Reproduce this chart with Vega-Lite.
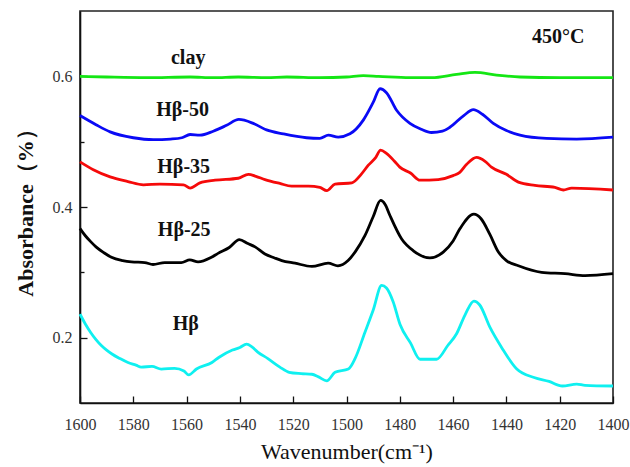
{
  "$schema": "https://vega.github.io/schema/vega-lite/v6.json",
  "width": 533,
  "height": 392,
  "autosize": "none",
  "padding": {"left": 80, "top": 11, "right": 17, "bottom": 64},
  "background": "white",
  "config": {
    "view": {"stroke": "#222", "strokeWidth": 1.6},
    "axis": {"grid": false, "domainColor": "#111", "domainWidth": 1.6, "tickColor": "#111", "tickWidth": 1.3, "labelFont": "Liberation Serif", "labelFontSize": 16, "labelColor": "#333", "titleFont": "Liberation Serif", "titleColor": "#111"}
  },
  "datasets": {
    "spectra": [
      {"s": "Hβ", "wn": 1600, "a": 0.236}, {"s": "Hβ", "wn": 1598, "a": 0.221}, {"s": "Hβ", "wn": 1596, "a": 0.208}, {"s": "Hβ", "wn": 1594, "a": 0.197}, {"s": "Hβ", "wn": 1592, "a": 0.188}, {"s": "Hβ", "wn": 1590, "a": 0.181}, {"s": "Hβ", "wn": 1588, "a": 0.175}, {"s": "Hβ", "wn": 1585, "a": 0.168}, {"s": "Hβ", "wn": 1582, "a": 0.162}, {"s": "Hβ", "wn": 1579, "a": 0.158}, {"s": "Hβ", "wn": 1577, "a": 0.155}, {"s": "Hβ", "wn": 1573, "a": 0.156}, {"s": "Hβ", "wn": 1569.5, "a": 0.152}, {"s": "Hβ", "wn": 1564.5, "a": 0.153}, {"s": "Hβ", "wn": 1561, "a": 0.149}, {"s": "Hβ", "wn": 1559.2, "a": 0.143}, {"s": "Hβ", "wn": 1556.3, "a": 0.152}, {"s": "Hβ", "wn": 1550.5, "a": 0.162}, {"s": "Hβ", "wn": 1547.8, "a": 0.170}, {"s": "Hβ", "wn": 1542.8, "a": 0.181}, {"s": "Hβ", "wn": 1540, "a": 0.185}, {"s": "Hβ", "wn": 1537.5, "a": 0.190}, {"s": "Hβ", "wn": 1535.5, "a": 0.186}, {"s": "Hβ", "wn": 1533.3, "a": 0.178}, {"s": "Hβ", "wn": 1529.5, "a": 0.168}, {"s": "Hβ", "wn": 1525, "a": 0.155}, {"s": "Hβ", "wn": 1521.5, "a": 0.147}, {"s": "Hβ", "wn": 1517, "a": 0.145}, {"s": "Hβ", "wn": 1513, "a": 0.144}, {"s": "Hβ", "wn": 1510.5, "a": 0.140}, {"s": "Hβ", "wn": 1507.4, "a": 0.134}, {"s": "Hβ", "wn": 1504.3, "a": 0.147}, {"s": "Hβ", "wn": 1499.3, "a": 0.152}, {"s": "Hβ", "wn": 1496.8, "a": 0.168}, {"s": "Hβ", "wn": 1493.1, "a": 0.208}, {"s": "Hβ", "wn": 1490, "a": 0.242}, {"s": "Hβ", "wn": 1486.8, "a": 0.280}, {"s": "Hβ", "wn": 1485, "a": 0.276}, {"s": "Hβ", "wn": 1482.5, "a": 0.255}, {"s": "Hβ", "wn": 1479.9, "a": 0.220}, {"s": "Hβ", "wn": 1476, "a": 0.192}, {"s": "Hβ", "wn": 1472.4, "a": 0.167}, {"s": "Hβ", "wn": 1466.2, "a": 0.167}, {"s": "Hβ", "wn": 1462, "a": 0.188}, {"s": "Hβ", "wn": 1458.7, "a": 0.206}, {"s": "Hβ", "wn": 1455.5, "a": 0.235}, {"s": "Hβ", "wn": 1452.2, "a": 0.256}, {"s": "Hβ", "wn": 1450, "a": 0.250}, {"s": "Hβ", "wn": 1446.2, "a": 0.216}, {"s": "Hβ", "wn": 1441.8, "a": 0.185}, {"s": "Hβ", "wn": 1436.1, "a": 0.152}, {"s": "Hβ", "wn": 1429.6, "a": 0.139}, {"s": "Hβ", "wn": 1424, "a": 0.133}, {"s": "Hβ", "wn": 1419, "a": 0.126}, {"s": "Hβ", "wn": 1413.6, "a": 0.129}, {"s": "Hβ", "wn": 1410.5, "a": 0.127}, {"s": "Hβ", "wn": 1400, "a": 0.126},
      {"s": "Hβ-25", "wn": 1600, "a": 0.367}, {"s": "Hβ-25", "wn": 1598, "a": 0.356}, {"s": "Hβ-25", "wn": 1596, "a": 0.347}, {"s": "Hβ-25", "wn": 1594, "a": 0.339}, {"s": "Hβ-25", "wn": 1591, "a": 0.330}, {"s": "Hβ-25", "wn": 1588.2, "a": 0.323}, {"s": "Hβ-25", "wn": 1584, "a": 0.318}, {"s": "Hβ-25", "wn": 1580.7, "a": 0.316}, {"s": "Hβ-25", "wn": 1575.7, "a": 0.315}, {"s": "Hβ-25", "wn": 1572.6, "a": 0.312}, {"s": "Hβ-25", "wn": 1568.2, "a": 0.315}, {"s": "Hβ-25", "wn": 1562, "a": 0.315}, {"s": "Hβ-25", "wn": 1558.8, "a": 0.319}, {"s": "Hβ-25", "wn": 1555.7, "a": 0.316}, {"s": "Hβ-25", "wn": 1550.7, "a": 0.323}, {"s": "Hβ-25", "wn": 1548.2, "a": 0.329}, {"s": "Hβ-25", "wn": 1544, "a": 0.338}, {"s": "Hβ-25", "wn": 1540.2, "a": 0.350}, {"s": "Hβ-25", "wn": 1537, "a": 0.344}, {"s": "Hβ-25", "wn": 1534.3, "a": 0.339}, {"s": "Hβ-25", "wn": 1530.6, "a": 0.328}, {"s": "Hβ-25", "wn": 1527, "a": 0.322}, {"s": "Hβ-25", "wn": 1524.3, "a": 0.318}, {"s": "Hβ-25", "wn": 1519.3, "a": 0.314}, {"s": "Hβ-25", "wn": 1513, "a": 0.309}, {"s": "Hβ-25", "wn": 1506.9, "a": 0.314}, {"s": "Hβ-25", "wn": 1503.2, "a": 0.310}, {"s": "Hβ-25", "wn": 1499.4, "a": 0.318}, {"s": "Hβ-25", "wn": 1496.8, "a": 0.331}, {"s": "Hβ-25", "wn": 1493.1, "a": 0.356}, {"s": "Hβ-25", "wn": 1490, "a": 0.385}, {"s": "Hβ-25", "wn": 1487.2, "a": 0.410}, {"s": "Hβ-25", "wn": 1485.5, "a": 0.404}, {"s": "Hβ-25", "wn": 1483.7, "a": 0.387}, {"s": "Hβ-25", "wn": 1479.3, "a": 0.351}, {"s": "Hβ-25", "wn": 1474.9, "a": 0.333}, {"s": "Hβ-25", "wn": 1468.7, "a": 0.322}, {"s": "Hβ-25", "wn": 1463.7, "a": 0.331}, {"s": "Hβ-25", "wn": 1460, "a": 0.348}, {"s": "Hβ-25", "wn": 1457.4, "a": 0.367}, {"s": "Hβ-25", "wn": 1452.2, "a": 0.389}, {"s": "Hβ-25", "wn": 1449.5, "a": 0.382}, {"s": "Hβ-25", "wn": 1446.2, "a": 0.358}, {"s": "Hβ-25", "wn": 1443, "a": 0.331}, {"s": "Hβ-25", "wn": 1440, "a": 0.318}, {"s": "Hβ-25", "wn": 1435.5, "a": 0.310}, {"s": "Hβ-25", "wn": 1426.8, "a": 0.300}, {"s": "Hβ-25", "wn": 1418, "a": 0.298}, {"s": "Hβ-25", "wn": 1410.5, "a": 0.295}, {"s": "Hβ-25", "wn": 1400, "a": 0.298},
      {"s": "Hβ-35", "wn": 1600, "a": 0.469}, {"s": "Hβ-35", "wn": 1595, "a": 0.457}, {"s": "Hβ-35", "wn": 1588.7, "a": 0.446}, {"s": "Hβ-35", "wn": 1582, "a": 0.439}, {"s": "Hβ-35", "wn": 1576.2, "a": 0.434}, {"s": "Hβ-35", "wn": 1570, "a": 0.435}, {"s": "Hβ-35", "wn": 1561.2, "a": 0.434}, {"s": "Hβ-35", "wn": 1558.7, "a": 0.429}, {"s": "Hβ-35", "wn": 1555, "a": 0.437}, {"s": "Hβ-35", "wn": 1549.3, "a": 0.441}, {"s": "Hβ-35", "wn": 1540.6, "a": 0.444}, {"s": "Hβ-35", "wn": 1536.8, "a": 0.450}, {"s": "Hβ-35", "wn": 1534, "a": 0.447}, {"s": "Hβ-35", "wn": 1530.6, "a": 0.442}, {"s": "Hβ-35", "wn": 1525, "a": 0.436}, {"s": "Hβ-35", "wn": 1520.6, "a": 0.432}, {"s": "Hβ-35", "wn": 1514.3, "a": 0.432}, {"s": "Hβ-35", "wn": 1510, "a": 0.430}, {"s": "Hβ-35", "wn": 1507.4, "a": 0.425}, {"s": "Hβ-35", "wn": 1504.3, "a": 0.435}, {"s": "Hβ-35", "wn": 1498, "a": 0.437}, {"s": "Hβ-35", "wn": 1494.5, "a": 0.450}, {"s": "Hβ-35", "wn": 1491.8, "a": 0.464}, {"s": "Hβ-35", "wn": 1489, "a": 0.476}, {"s": "Hβ-35", "wn": 1487.2, "a": 0.487}, {"s": "Hβ-35", "wn": 1485, "a": 0.482}, {"s": "Hβ-35", "wn": 1482, "a": 0.470}, {"s": "Hβ-35", "wn": 1480, "a": 0.461}, {"s": "Hβ-35", "wn": 1476, "a": 0.452}, {"s": "Hβ-35", "wn": 1472.4, "a": 0.441}, {"s": "Hβ-35", "wn": 1465.6, "a": 0.442}, {"s": "Hβ-35", "wn": 1460, "a": 0.448}, {"s": "Hβ-35", "wn": 1457.5, "a": 0.453}, {"s": "Hβ-35", "wn": 1455, "a": 0.465}, {"s": "Hβ-35", "wn": 1451.2, "a": 0.476}, {"s": "Hβ-35", "wn": 1448, "a": 0.470}, {"s": "Hβ-35", "wn": 1445.6, "a": 0.461}, {"s": "Hβ-35", "wn": 1440, "a": 0.450}, {"s": "Hβ-35", "wn": 1435.5, "a": 0.438}, {"s": "Hβ-35", "wn": 1429.3, "a": 0.433}, {"s": "Hβ-35", "wn": 1421.8, "a": 0.430}, {"s": "Hβ-35", "wn": 1418.6, "a": 0.426}, {"s": "Hβ-35", "wn": 1415.5, "a": 0.429}, {"s": "Hβ-35", "wn": 1400, "a": 0.426},
      {"s": "Hβ-50", "wn": 1600, "a": 0.540}, {"s": "Hβ-50", "wn": 1594, "a": 0.526}, {"s": "Hβ-50", "wn": 1588.7, "a": 0.515}, {"s": "Hβ-50", "wn": 1580, "a": 0.506}, {"s": "Hβ-50", "wn": 1572.5, "a": 0.503}, {"s": "Hβ-50", "wn": 1566, "a": 0.504}, {"s": "Hβ-50", "wn": 1561.8, "a": 0.506}, {"s": "Hβ-50", "wn": 1558.7, "a": 0.511}, {"s": "Hβ-50", "wn": 1555, "a": 0.510}, {"s": "Hβ-50", "wn": 1550, "a": 0.516}, {"s": "Hβ-50", "wn": 1545, "a": 0.525}, {"s": "Hβ-50", "wn": 1540.4, "a": 0.534}, {"s": "Hβ-50", "wn": 1535, "a": 0.528}, {"s": "Hβ-50", "wn": 1530, "a": 0.518}, {"s": "Hβ-50", "wn": 1523.7, "a": 0.512}, {"s": "Hβ-50", "wn": 1515, "a": 0.506}, {"s": "Hβ-50", "wn": 1510, "a": 0.505}, {"s": "Hβ-50", "wn": 1506.8, "a": 0.510}, {"s": "Hβ-50", "wn": 1503.1, "a": 0.507}, {"s": "Hβ-50", "wn": 1498.7, "a": 0.512}, {"s": "Hβ-50", "wn": 1493.7, "a": 0.533}, {"s": "Hβ-50", "wn": 1490, "a": 0.560}, {"s": "Hβ-50", "wn": 1487.4, "a": 0.581}, {"s": "Hβ-50", "wn": 1485, "a": 0.575}, {"s": "Hβ-50", "wn": 1481.2, "a": 0.548}, {"s": "Hβ-50", "wn": 1476.2, "a": 0.528}, {"s": "Hβ-50", "wn": 1472, "a": 0.519}, {"s": "Hβ-50", "wn": 1468.1, "a": 0.514}, {"s": "Hβ-50", "wn": 1464, "a": 0.516}, {"s": "Hβ-50", "wn": 1461.2, "a": 0.522}, {"s": "Hβ-50", "wn": 1456, "a": 0.540}, {"s": "Hβ-50", "wn": 1452.4, "a": 0.549}, {"s": "Hβ-50", "wn": 1449, "a": 0.542}, {"s": "Hβ-50", "wn": 1444.9, "a": 0.528}, {"s": "Hβ-50", "wn": 1440, "a": 0.517}, {"s": "Hβ-50", "wn": 1434.9, "a": 0.510}, {"s": "Hβ-50", "wn": 1425, "a": 0.505}, {"s": "Hβ-50", "wn": 1413.6, "a": 0.504}, {"s": "Hβ-50", "wn": 1400, "a": 0.507},
      {"s": "clay", "wn": 1600, "a": 0.600}, {"s": "clay", "wn": 1590, "a": 0.599}, {"s": "clay", "wn": 1575, "a": 0.598}, {"s": "clay", "wn": 1558.7, "a": 0.599}, {"s": "clay", "wn": 1550, "a": 0.598}, {"s": "clay", "wn": 1540.6, "a": 0.599}, {"s": "clay", "wn": 1530, "a": 0.598}, {"s": "clay", "wn": 1522.4, "a": 0.599}, {"s": "clay", "wn": 1510, "a": 0.598}, {"s": "clay", "wn": 1500, "a": 0.599}, {"s": "clay", "wn": 1493.7, "a": 0.601}, {"s": "clay", "wn": 1488, "a": 0.600}, {"s": "clay", "wn": 1476.2, "a": 0.598}, {"s": "clay", "wn": 1468, "a": 0.598}, {"s": "clay", "wn": 1458.7, "a": 0.603}, {"s": "clay", "wn": 1451.8, "a": 0.606}, {"s": "clay", "wn": 1443.7, "a": 0.602}, {"s": "clay", "wn": 1434.9, "a": 0.599}, {"s": "clay", "wn": 1420, "a": 0.598}, {"s": "clay", "wn": 1413.6, "a": 0.598}, {"s": "clay", "wn": 1400, "a": 0.598}
    ],
    "labels": [
      {"t": "clay", "wn": 1559.4, "a": 0.6195},
      {"t": "Hβ-50", "wn": 1561.5, "a": 0.539},
      {"t": "Hβ-35", "wn": 1561.1, "a": 0.452},
      {"t": "Hβ-25", "wn": 1560.9, "a": 0.356},
      {"t": "Hβ", "wn": 1560.3, "a": 0.211},
      {"t": "450°C", "wn": 1420.6, "a": 0.6516}
    ]
  },
  "layer": [
    {
      "data": {"name": "spectra"},
      "mark": {"type": "line", "strokeWidth": 2.8, "interpolate": "monotone"},
      "encoding": {
        "x": {
          "field": "wn", "type": "quantitative",
          "scale": {"domain": [1400, 1600], "reverse": true, "nice": false, "zero": false},
          "axis": {
            "title": "Wavenumber(cm⁻¹)",
            "titleFontSize": 22, "titleFontWeight": "normal", "titlePadding": 9,
            "values": [1400, 1410, 1420, 1430, 1440, 1450, 1460, 1470, 1480, 1490, 1500, 1510, 1520, 1530, 1540, 1550, 1560, 1570, 1580, 1590, 1600],
            "format": "d",
            "labelExpr": "datum.value % 20 === 0 ? datum.label : ''",
            "tickSize": {"condition": {"test": "datum.value % 20 === 0", "value": -7}, "value": -4},
            "labelPadding": 20, "labelFlush": false, "labelOverlap": false
          }
        },
        "y": {
          "field": "a", "type": "quantitative",
          "scale": {"domain": [0.1, 0.7], "nice": false, "zero": false},
          "axis": {
            "title": "Absorbance（%）",
            "titleFontSize": 22, "titleFontWeight": "bold", "titlePadding": 15,
            "values": [0.2, 0.3, 0.4, 0.5, 0.6],
            "format": ".1f",
            "labelExpr": "(round(datum.value * 10) % 2 === 0) ? datum.label : ''",
            "tickSize": {"condition": {"test": "round(datum.value * 10) % 2 === 0", "value": -7}, "value": -4},
            "labelPadding": 15, "labelOverlap": false
          }
        },
        "color": {
          "field": "s", "type": "nominal",
          "scale": {"domain": ["clay", "Hβ-50", "Hβ-35", "Hβ-25", "Hβ"], "range": ["#14e614", "#0a0af5", "#f50a0a", "#000000", "#0ff0f0"]},
          "legend": null
        }
      }
    },
    {
      "data": {"name": "labels"},
      "mark": {"type": "text", "font": "Liberation Serif", "fontWeight": "bold", "fontSize": 20, "align": "center", "baseline": "alphabetic", "color": "#111"},
      "encoding": {
        "x": {"field": "wn", "type": "quantitative"},
        "y": {"field": "a", "type": "quantitative"},
        "text": {"field": "t"}
      }
    }
  ]
}
